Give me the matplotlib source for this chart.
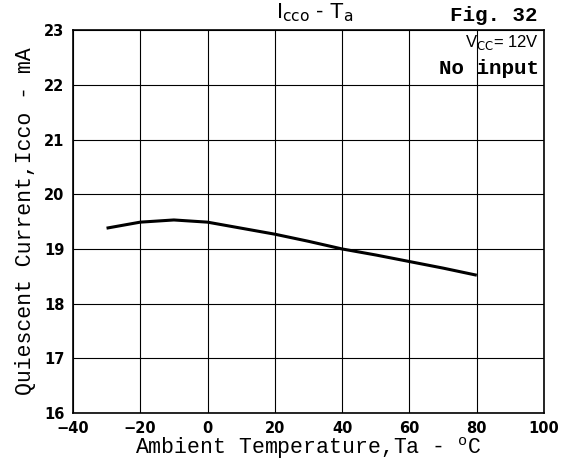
import matplotlib
matplotlib.use("Agg")
import matplotlib.pyplot as plt
import numpy as np

# ---- fonts ----
plt.rcParams["font.family"] = ["Liberation Mono", "DejaVu Sans Mono"]
plt.rcParams["mathtext.fontset"] = "custom"
plt.rcParams["mathtext.rm"] = "Liberation Mono"
plt.rcParams["axes.unicode_minus"] = False

# ---- data: quiescent current vs ambient temperature ----
ta = [-30, -20, -10, 0, 10, 20, 30, 40, 50, 60, 70, 80]
icco = [19.38, 19.49, 19.53, 19.49, 19.38, 19.27, 19.14, 19.00, 18.89, 18.77, 18.65, 18.52]

x_ticks = [-40, -20, 0, 20, 40, 60, 80, 100]
x_ticklabels = ["\u221240", "\u221220", "0", "20", "40", "60", "80", "100"]
y_ticks = [16, 17, 18, 19, 20, 21, 22, 23]

fig = plt.figure(figsize=(5.65, 4.7), dpi=100)
ax = fig.add_axes([0.129, 0.121, 0.834, 0.815])

ax.plot(ta, icco, color="black", lw=2.2, solid_capstyle="butt")

ax.set_xlim(-40, 100)
ax.set_ylim(16, 23)
ax.set_xticks(x_ticks)
ax.set_xticklabels(x_ticklabels)
ax.set_yticks(y_ticks)
ax.tick_params(length=0, pad=6)
for lbl in ax.get_xticklabels() + ax.get_yticklabels():
    lbl.set_family("DejaVu Sans")
    lbl.set_fontweight("bold")
    lbl.set_fontsize(10.5)

ax.grid(True, color="black", lw=0.8)
for s in ax.spines.values():
    s.set_linewidth(1.2)

ax.set_xlabel(r"Ambient Temperature,Ta - $^{\mathrm{o}}$C", fontsize=15.5, labelpad=-1)
ax.set_ylabel("Quiescent Current,Icco - mA", fontsize=15.5, labelpad=6)

# title and figure number
fig.text(0.557, 0.972, r"I$_{\mathrm{cco}}$ - T$_{\mathrm{a}}$", ha="center", va="center",
         fontsize=16, family="Liberation Sans", math_fontfamily="dejavusans")
fig.text(0.952, 0.968, "Fig. 32", ha="right", va="center", fontsize=15, fontweight="bold")

# test condition box
ax.text(98.5, 22.78, r"V$_{\mathrm{CC}}$= 12V", ha="right", va="center",
        fontsize=12, family="Liberation Sans", math_fontfamily="dejavusans")
ax.text(98.5, 22.3, "No input", ha="right", va="center", fontsize=15, fontweight="bold")

fig.savefig("out.png", dpi=100)
